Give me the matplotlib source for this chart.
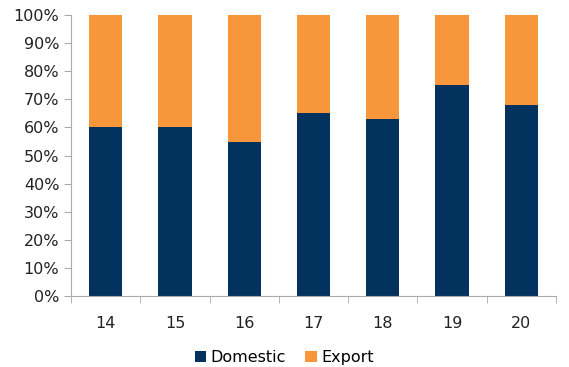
import matplotlib.pyplot as plt
import numpy as np
from matplotlib.ticker import PercentFormatter

years = ['14', '15', '16', '17', '18', '19', '20']
domestic = [60, 60, 55, 65, 63, 75, 68]
export = [100 - d for d in domestic]

navy = '#04325f'
orange = '#f7963a'

fig = plt.figure(figsize=(5.69, 3.67), dpi=100)
ax = fig.add_axes([0.125, 0.193, 0.852, 0.766])

pos = np.arange(len(years))
ax.bar(pos, domestic, width=0.48, color=navy, label='Domestic')
ax.bar(pos, export, width=0.48, bottom=domestic, color=orange, label='Export')

ax.set_xlim(-0.5, len(years) - 0.5)
ax.set_ylim(0, 100)
ax.set_yticks(np.arange(0, 101, 10))
ax.yaxis.set_major_formatter(PercentFormatter(decimals=0))

# category labels centred, tick marks between categories
ax.set_xticks(pos)
ax.set_xticklabels(years)
ax.set_xticks(np.arange(-0.5, len(years)), minor=True)
ax.tick_params(axis='x', which='major', length=0, pad=14, labelsize=11.5, colors='#222222')
ax.tick_params(axis='x', which='minor', length=5, color='#aaaaaa')
ax.tick_params(axis='y', length=5, color='#aaaaaa', labelsize=11.5, colors='#222222')

for s in ['top', 'right']:
    ax.spines[s].set_visible(False)
for s in ['left', 'bottom']:
    ax.spines[s].set_color('#aaaaaa')

ax.legend(loc='upper center', bbox_to_anchor=(0.44, -0.14), ncol=2, frameon=False,
          fontsize=11.5, handlelength=0.7, handleheight=0.7, handletextpad=0.3,
          columnspacing=1.2)

fig.savefig('out.png', dpi=100)
